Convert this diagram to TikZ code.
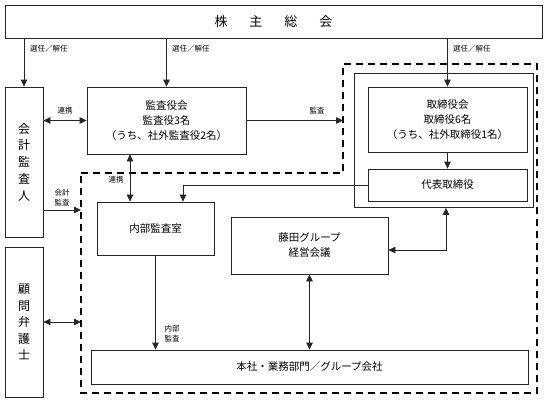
\documentclass[tikz,border=0pt]{standalone}
\usepackage{fontspec}
\setmainfont{Noto Sans CJK JP}
\usetikzlibrary{arrows.meta}
\usetikzlibrary{calc}

\begin{document}
\begin{tikzpicture}[x=1pt, y=-1pt,
    box/.style={draw=black!85, line width=0.8pt, inner sep=0pt, align=center, font=\fontsize{10.5}{15}\selectfont},
    arr/.style={draw=black!85, line width=0.8pt, -{Triangle[length=7pt,width=6.5pt]}},
    darr/.style={draw=black!85, line width=0.8pt, {Triangle[length=7pt,width=6.5pt]}-{Triangle[length=7pt,width=6.5pt]}},
    lbl/.style={inner sep=0pt, align=center, font=\fontsize{7.5}{10}\selectfont},
    grp/.style={draw=black, line width=1.8pt, dash pattern=on 7pt off 5pt}]
      \useasboundingbox (0,0) rectangle (547,400);

      \coordinate (g1) at (81,173);
      \coordinate (g2) at (343,173);
      \coordinate (g3) at (343,64);
      \coordinate (g4) at (537,64);
      \coordinate (g5) at (537,393);
      \coordinate (g6) at (81,393);
      \draw[grp] (g1) -- (g2) -- (g3) -- (g4) -- (g5) -- (g6) -- cycle;

      \node[box, minimum width=537pt, minimum height=33pt, font=\fontsize{13}{15}\selectfont] (sh) at (273.5,21.5) {株\hspace{22pt}主\hspace{22pt}総\hspace{22pt}会};
      \node[box, minimum width=38pt, minimum height=150pt, font=\fontsize{12}{16.8}\selectfont] (auditor) at (24,162) {会\\計\\監\\査\\人};
      \node[box, minimum width=38pt, minimum height=150pt, font=\fontsize{12}{16.5}\selectfont] (lawyer) at (24,322) {顧\\問\\弁\\護\\士};
      \node[box, minimum width=159pt, minimum height=67pt] (kansa) at (166.5,120.5) {監査役会\\監査役3名\\（うち、社外監査役2名）};
      \node[box, minimum width=117pt, minimum height=53pt] (naibu) at (155.5,228.5) {内部監査室};
      \node[box, minimum width=179pt, minimum height=134pt] (board) at (443.5,140.5) {};
      \node[box, minimum width=159pt, minimum height=65pt] (tori) at (447.5,119.5) {取締役会\\取締役6名\\（うち、社外取締役1名）};
      \node[box, minimum width=159pt, minimum height=32pt] (daihyo) at (447.5,185) {代表取締役};
      \node[box, minimum width=157pt, minimum height=57pt] (kaigi) at (309.5,245.5) {藤田グループ\\経営会議};
      \node[box, minimum width=437pt, minimum height=34pt] (honsha) at (309.5,367) {本社・業務部門／グループ会社};

      \draw[arr] (sh.south -| auditor.north) -- (auditor.north);
      \draw[arr] (sh.south -| kansa.north) -- (kansa.north);
      \draw[arr] (sh.south -| tori.north) -- (tori.north);
      \node[lbl, anchor=west] (sel1) at (30,49) {選任／解任};
      \node[lbl, anchor=west] (sel2) at (172,49) {選任／解任};
      \node[lbl, anchor=west] (sel3) at (453,49) {選任／解任};

      \draw[darr] (kansa.west -| auditor.east) -- (kansa.west);
      \node[lbl] (rk1) at (65,111) {連携};
      \draw[darr] ([xshift=-25.5pt]naibu.north |- kansa.south) -- ([xshift=-25.5pt]naibu.north);
      \node[lbl] (rk2) at (116,180) {連携};
      \draw[arr] ([yshift=-48pt]auditor.east) -- ([yshift=-48pt]auditor.east -| g1);
      \node[lbl] (kk) at (62,198) {会計\\監査};
      \draw[darr] (lawyer.east) -- (lawyer.east -| g1);
      \draw[arr] (kansa.east) -- (kansa.east -| g2);
      \node[lbl] (ks) at (317,111) {監査};

      \draw[arr] (tori.south) -- (daihyo.north);
      \draw[arr] (daihyo.west) -| ([xshift=27.5pt]naibu.north);
      \draw[darr] ([yshift=-4.5pt]kaigi.east) -| ([xshift=2.5pt]board.south);
      \draw[darr] (kaigi.south) -- (kaigi.south |- honsha.north);
      \draw[arr] (naibu.south) -- (naibu.south |- honsha.north);
      \node[lbl] (ns) at (172,334) {内部\\監査};
\end{tikzpicture}
\end{document}
